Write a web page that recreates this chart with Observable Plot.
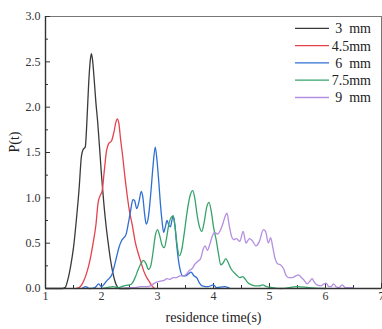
<!DOCTYPE html>
<html><head><meta charset="utf-8">
<script src="https://cdn.jsdelivr.net/npm/d3@7"></script>
<script src="https://cdn.jsdelivr.net/npm/@observablehq/plot@0.6"></script>
<style>body{margin:0;background:#fff}</style>
</head><body><div id="chart"></div>
<script>
const seriesNames = ["3  mm", "4.5mm", "6  mm", "7.5mm", "9  mm"];
const seriesColors = ["#3a3a3a", "#e5424c", "#2f6fd3", "#36a46a", "#b48ee0"];
const xTicks = [1, 2, 3, 4, 5, 6, 7];
const yTicks = [0, 0.5, 1, 1.5, 2, 2.5, 3];

const t3 = [1.0,1.3,1.35,1.4,1.45,1.5,1.55,1.6,1.64,1.67,1.71,1.74,1.77,1.8,1.82,1.84,1.87,1.9,1.93,1.96,2.0,2.04,2.08,2.12,2.16,2.2,2.24,2.28,2.32,2.5];
const p3 = [0,0,0.01,0.1,0.25,0.45,0.75,1.1,1.45,1.53,1.56,1.85,2.25,2.52,2.59,2.52,2.3,2.05,1.85,1.6,1.25,0.95,0.7,0.5,0.32,0.18,0.08,0.02,0,0];

const t45 = [1.55,1.62,1.68,1.74,1.8,1.85,1.9,1.94,1.98,2.01,2.05,2.09,2.13,2.18,2.22,2.26,2.28,2.31,2.34,2.38,2.42,2.46,2.5,2.55,2.6,2.65,2.7,2.75,2.8,2.85,2.9,2.95];
const p45 = [0,0.02,0.08,0.18,0.33,0.5,0.7,0.95,1.03,1.07,1.3,1.52,1.6,1.63,1.72,1.84,1.87,1.82,1.65,1.45,1.22,1.02,0.85,0.7,0.52,0.4,0.3,0.2,0.13,0.08,0.03,0];

const t6 = [1.65,1.72,1.78,1.88,1.95,2.0,2.05,2.1,2.15,2.19,2.23,2.27,2.31,2.36,2.4,2.44,2.48,2.52,2.56,2.59,2.63,2.67,2.71,2.74,2.77,2.8,2.84,2.88,2.92,2.96,2.99,3.02,3.05,3.08,3.11,3.14,3.17,3.2,3.23,3.26,3.28,3.31,3.34,3.37,3.4,3.45,3.5,3.55,3.6,3.65,3.7,3.75,3.8,3.9,4.0,4.05,4.2,4.3];
const p6 = [0,0.02,0,0.01,0.05,0.02,0.05,0.09,0.12,0.16,0.25,0.35,0.45,0.53,0.56,0.6,0.72,0.86,0.98,0.97,0.88,0.96,1.07,1.0,0.82,0.71,0.8,1.05,1.35,1.56,1.42,1.2,0.95,0.75,0.62,0.68,0.75,0.7,0.68,0.76,0.8,0.7,0.5,0.33,0.22,0.14,0.14,0.16,0.18,0.14,0.12,0.06,0.03,0.02,0.04,0.01,0.02,0];

const t75 = [2.0,2.1,2.2,2.3,2.4,2.5,2.55,2.6,2.65,2.7,2.75,2.79,2.84,2.88,2.92,2.96,3.0,3.04,3.08,3.12,3.16,3.2,3.24,3.28,3.31,3.35,3.39,3.43,3.48,3.53,3.58,3.63,3.67,3.71,3.75,3.79,3.83,3.88,3.92,3.96,4.0,4.05,4.09,4.13,4.17,4.22,4.26,4.31,4.36,4.41,4.47,4.52,4.57,4.62,4.68,4.75,4.82,4.88,4.95,5.05,5.2,5.5,5.7,6.0];
const p75 = [0,0.01,0.02,0.01,0.03,0.04,0.06,0.12,0.2,0.27,0.31,0.28,0.21,0.25,0.4,0.58,0.65,0.58,0.48,0.45,0.55,0.7,0.78,0.8,0.7,0.48,0.36,0.42,0.62,0.85,1.02,1.08,0.98,0.8,0.68,0.63,0.72,0.9,0.95,0.85,0.68,0.53,0.38,0.26,0.28,0.33,0.29,0.22,0.18,0.15,0.12,0.13,0.1,0.06,0.04,0.03,0.03,0.04,0.02,0.01,0,0.02,0.01,0];

const t9 = [2.4,2.5,2.6,2.7,2.8,2.87,2.95,3.05,3.12,3.17,3.22,3.28,3.34,3.4,3.46,3.52,3.57,3.62,3.67,3.72,3.77,3.82,3.85,3.89,3.94,3.98,4.02,4.07,4.12,4.17,4.21,4.24,4.28,4.32,4.36,4.41,4.47,4.53,4.58,4.64,4.69,4.76,4.82,4.89,4.93,4.98,5.02,5.06,5.1,5.15,5.2,5.25,5.3,5.35,5.41,5.47,5.52,5.57,5.62,5.67,5.72,5.76,5.8,5.85,5.92,5.97,6.01,6.06,6.1,6.14,6.19,6.24,6.3,6.35,6.42,6.49];
const p9 = [0,0.01,0.01,0.02,0.02,0.03,0.06,0.08,0.09,0.11,0.1,0.12,0.12,0.14,0.14,0.16,0.2,0.22,0.27,0.3,0.33,0.44,0.47,0.42,0.5,0.58,0.62,0.6,0.64,0.72,0.8,0.83,0.7,0.58,0.54,0.55,0.52,0.63,0.5,0.55,0.53,0.47,0.52,0.65,0.63,0.5,0.56,0.45,0.33,0.27,0.26,0.22,0.14,0.12,0.12,0.14,0.15,0.12,0.09,0.05,0.08,0.11,0.07,0.04,0.03,0.05,0.06,0.02,0.02,0.05,0.02,0.01,0.04,0.01,0.01,0.01];

const ts = [t3, t45, t6, t75, t9];
const ps = [p3, p45, p6, p75, p9];
const data = [];
seriesNames.forEach((s, i) => ts[i].forEach((t, j) => data.push({s, t, p: ps[i][j]})));

const W = 382, H = 329, mL = 45, mR = 1, mT = 16, mB = 41;
const innerW = W - mL - mR, innerH = H - mT - mB;
const xMinor = d3.range(1.5, 7, 1);
const yMinor = d3.range(0.25, 3, 0.5);

const chart = Plot.plot({
  width: W, height: H,
  marginLeft: mL, marginRight: mR, marginTop: mT, marginBottom: mB,
  x: {domain: [1, 7]},
  y: {domain: [0, 3]},
  color: {domain: seriesNames, range: seriesColors},
  style: {fontFamily: "'Liberation Serif', 'Times New Roman', serif", fontSize: "12px", color: "#333", background: "#fff"},
  marks: [
    Plot.frame({stroke: "#777", strokeWidth: 1}),
    Plot.tickY(yTicks, {y: d => d, insetRight: innerW - 5, stroke: "#333"}),
    Plot.tickY(yMinor, {y: d => d, insetRight: innerW - 3, stroke: "#333"}),
    Plot.tickX(xTicks, {x: d => d, insetTop: innerH - 5, stroke: "#333"}),
    Plot.tickX(xMinor, {x: d => d, insetTop: innerH - 3, stroke: "#333"}),
    Plot.axisY({ticks: yTicks, tickFormat: d3.format(".1f"), tickSize: 0, tickPadding: 5, label: null}),
    Plot.axisX({ticks: xTicks, tickFormat: d3.format("d"), tickSize: 0, tickPadding: 3, label: null}),
    Plot.text(["P(t)"], {frameAnchor: "left", rotate: -90, dx: -31, fontSize: 14, fill: "#222"}),
    Plot.text(["residence time(s)"], {frameAnchor: "bottom", dy: 33, fontSize: 14, fill: "#222"}),
    Plot.line(data, {x: "t", y: "p", z: "s", stroke: "s", curve: "monotone-x", strokeWidth: 1.3}),
    Plot.ruleX([1], {stroke: "#333", strokeWidth: 1.4}),
    Plot.ruleY([0], {stroke: "#333", strokeWidth: 1.4})
  ]
});

// legend inside the plot, top right
const svg = d3.select(chart);
const lg = svg.append("g").attr("font-family", "'Liberation Serif', 'Times New Roman', serif").attr("font-size", 14);
seriesNames.forEach((s, i) => {
  const y = 28.3 + i * 17.3;
  lg.append("line").attr("x1", 295).attr("x2", 329).attr("y1", y).attr("y2", y)
    .attr("stroke", seriesColors[i]).attr("stroke-width", 1.3);
  lg.append("text").attr("x", 371).attr("y", y).attr("dy", "0.35em").attr("text-anchor", "end")
    .attr("fill", "#222").style("white-space", "pre").text(s);
});

document.getElementById("chart").appendChild(chart);
</script>
</body></html>
